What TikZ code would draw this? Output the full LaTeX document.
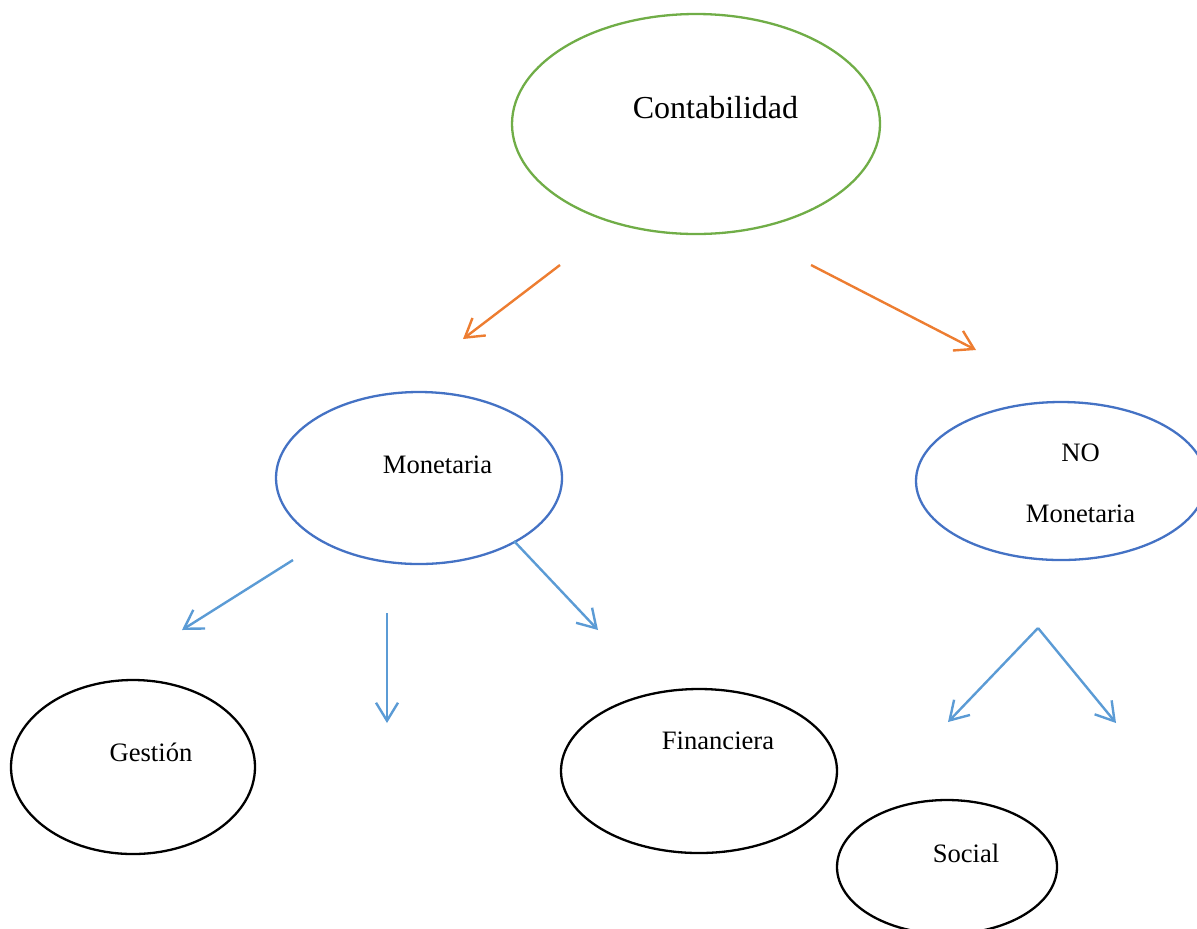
\documentclass[tikz,border=0pt]{standalone}
\usepackage{fontspec}
\setmainfont{Liberation Serif}
\usetikzlibrary{shapes.geometric,arrows.meta}
\definecolor{cgreen}{HTML}{70AD47}
\definecolor{cblue}{HTML}{4472C4}
\definecolor{carrow}{HTML}{5B9BD5}
\definecolor{corange}{HTML}{ED7D31}
\tikzset{
  oval/.style={ellipse, draw, line width=1.15pt, inner sep=0pt},
  lbl/.style={anchor=base, inner sep=0pt, font=\fontsize{13.3}{16}\selectfont},
  bigLbl/.style={anchor=base, inner sep=0pt, font=\fontsize{16}{19}\selectfont},
  link/.style={line width=1.2pt, -{Straight Barb[length=9pt,width=11pt,line width=1.2pt]}},
}
\begin{document}
\begin{tikzpicture}[x=0.5pt,y=-0.5pt]
  \clip (0,0) rectangle (1197,928);
  \useasboundingbox (0,0) rectangle (1197,928);

  % ellipses
  \node[oval, draw=cgreen, minimum width=184pt, minimum height=110pt] (cont) at (696,124) {};
  \node[oval, draw=cblue, minimum width=143pt, minimum height=86pt] (mon) at (419,478) {};
  \node[oval, draw=cblue, minimum width=145pt, minimum height=79pt] (nomon) at (1061,481) {};
  \node[oval, draw=black, minimum width=122pt, minimum height=87pt] (gest) at (133,767) {};
  \node[oval, draw=black, minimum width=138pt, minimum height=82pt] (fin) at (699,771) {};
  \node[oval, draw=black, minimum width=110pt, minimum height=67pt] (soc) at (947,867) {};

  % labels
  \node[bigLbl] (tcont) at (715.5,118) {Contabilidad};
  \node[lbl] (tmon) at (437.5,473) {Monetaria};
  \node[lbl] (tno) at (1080.5,461) {NO};
  \node[lbl] (tnomon) at (1080.5,522) {Monetaria};
  \node[lbl] (tgest) at (151,761) {Gestión};
  \node[lbl] (tfin) at (718,749) {Financiera};
  \node[lbl] (tsoc) at (966,862) {Social};

  % connector end points
  \coordinate (a1s) at (560,265);  \coordinate (a1e) at (463,339);
  \coordinate (a2s) at (811,265);  \coordinate (a2e) at (976,350);
  \coordinate (b1s) at (293,560);  \coordinate (b1e) at (182,630);
  \coordinate (b2s) at (387,613);  \coordinate (b2e) at (387,723);
  \coordinate (b3s) at (514,541);  \coordinate (b3e) at (598,630);
  \coordinate (c0)  at (1038,628);
  \coordinate (c1e) at (948,722);  \coordinate (c2e) at (1116,723);

  % connectors
  \draw[link, draw=corange] (a1s) -- (a1e);
  \draw[link, draw=corange] (a2s) -- (a2e);
  \draw[link, draw=carrow] (b1s) -- (b1e);
  \draw[link, draw=carrow] (b2s) -- (b2e);
  \draw[link, draw=carrow] (b3s) -- (b3e);
  \draw[link, draw=carrow] (c0) -- (c1e);
  \draw[link, draw=carrow] (c0) -- (c2e);
\end{tikzpicture}
\end{document}
